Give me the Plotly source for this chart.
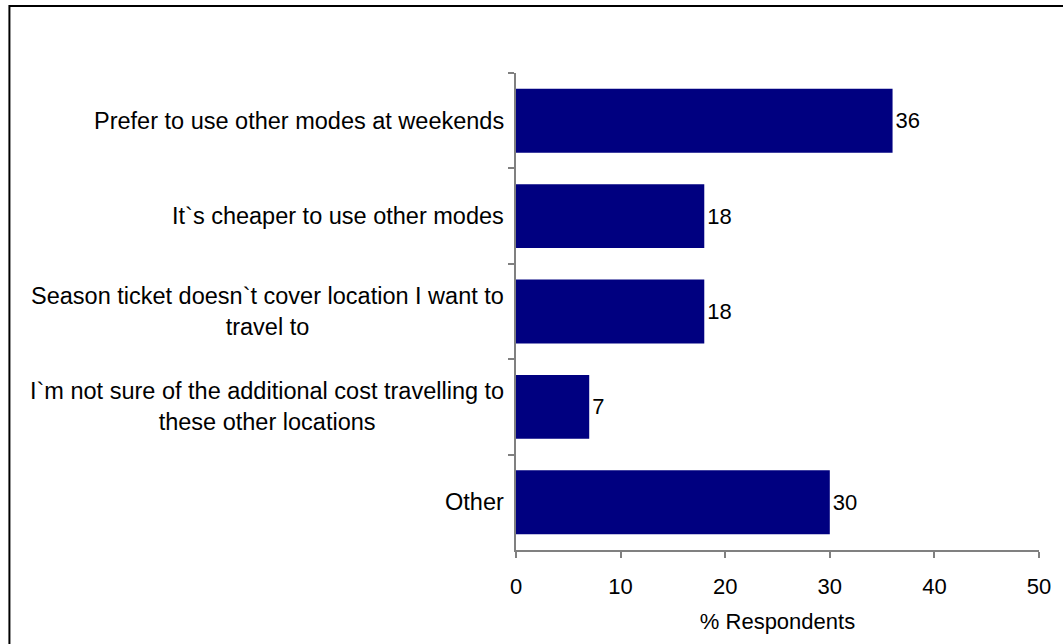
import plotly.graph_objects as go

# Survey responses: reasons for not using the season ticket elsewhere
categories = [
    "Prefer to use other modes at weekends",
    "It`s cheaper to use other modes",
    "Season ticket doesn`t cover location I want to<br>travel to",
    "I`m not sure of the additional cost travelling to<br>these other locations",
    "Other",
]
values = [36, 18, 18, 7, 30]
x_ticks = [0, 10, 20, 30, 40, 50]

FONT = "Liberation Sans, Arial, sans-serif"
FS = 22
LABEL_FS = 23.5
AXIS_GREY = "#808080"

fig = go.Figure(
    go.Bar(
        x=values,
        y=categories,
        orientation="h",
        marker=dict(color="#000080", line=dict(width=0)),
        text=[str(v) for v in values],
        textposition="outside",
        textfont=dict(family=FONT, size=FS, color="#000000"),
        cliponaxis=False,
        width=0.67,
    )
)

# Category labels as annotations so multi-line labels are centred
for cat in categories:
    fig.add_annotation(
        x=0, xref="paper", y=cat, yref="y",
        text=cat, showarrow=False,
        xanchor="right", align="center", xshift=-10,
        font=dict(family=FONT, size=LABEL_FS, color="#000000"),
    )

# Outer chart frame
fig.add_shape(
    type="rect", xref="paper", yref="paper",
    x0=-0.9686, x1=1.15, y0=-0.25, y1=1.1405,
    line=dict(color="#000000", width=2), fillcolor="rgba(0,0,0,0)",
    layer="below",
)

fig.update_layout(
    width=1063, height=644,
    margin=dict(l=516, r=22, t=73, b=94),
    paper_bgcolor="#ffffff", plot_bgcolor="#ffffff",
    showlegend=False,
    font=dict(family=FONT, size=FS, color="#000000"),
    bargap=0.33,
    xaxis=dict(
        range=[0, 50], tickvals=x_ticks, ticktext=[str(t) for t in x_ticks],
        showgrid=False, zeroline=False,
        showline=True, linecolor=AXIS_GREY, linewidth=1.5,
        ticks="outside", ticklen=6, tickcolor=AXIS_GREY, tickwidth=1.5,
        ticklabelstandoff=10,
        tickfont=dict(family=FONT, size=FS, color="#000000"),
        title=dict(text="% Respondents", font=dict(family=FONT, size=FS), standoff=15),
    ),
    yaxis=dict(
        autorange="reversed",
        showgrid=False, zeroline=False,
        showline=True, linecolor=AXIS_GREY, linewidth=1.5,
        ticks="outside", ticklen=6, tickcolor=AXIS_GREY, tickwidth=1.5,
        tickson="boundaries", showticklabels=False,
    ),
)

fig.write_html("out.html")
